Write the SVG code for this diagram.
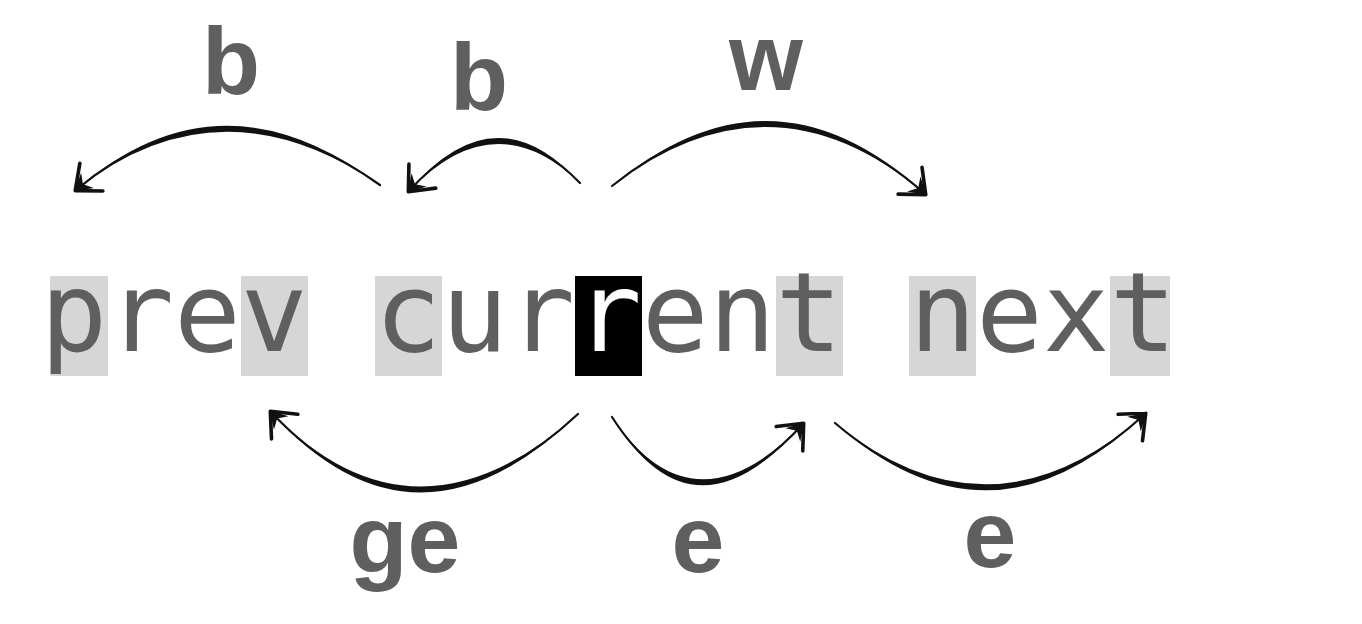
<svg xmlns="http://www.w3.org/2000/svg" width="1362" height="624" viewBox="0 0 1362 624">
<defs>
<style>
.mono{font-family:"DejaVu Sans Mono","Liberation Mono",monospace;font-size:111px;fill:#5f5f5f}
.lbl{font-family:"Liberation Sans",Arial,sans-serif;font-weight:bold;font-size:95px;fill:#5f5f5f;text-anchor:middle}
.hl{fill:#d6d6d6}
.line{fill:none;stroke:#111;stroke-width:2.2;stroke-linecap:round}
.body{fill:#111;stroke:none}
</style>
<marker id="ah" markerUnits="userSpaceOnUse" markerWidth="60" markerHeight="60" refX="0" refY="0" orient="auto" overflow="visible">
<path d="M1,0 L-20,-18 M1,0 L-20,18" fill="none" stroke="#111" stroke-width="3.6" stroke-linecap="round"/>
<path d="M2,0 L-15,-10 L-9,0 L-15,10 Z" fill="#111"/>
</marker>
</defs>
<rect width="1362" height="624" fill="#fff"/>
<g id="text-line">
<rect class="hl" x="50" y="276" width="58" height="100"/>
<rect class="hl" x="241" y="276" width="67" height="100"/>
<rect class="hl" x="375" y="276" width="67" height="100"/>
<rect x="575" y="276" width="67" height="100" fill="#000"/>
<rect class="hl" x="776" y="276" width="67" height="100"/>
<rect class="hl" x="909" y="276" width="67" height="100"/>
<rect class="hl" x="1110" y="276" width="60" height="100"/>
<text class="mono" x="40.4" y="351">prev cur<tspan fill="#fff">r</tspan>ent next</text>
</g>
<g id="labels">
<text class="lbl" x="231" y="94">b</text>
<text class="lbl" x="479" y="110">b</text>
<text class="lbl" x="766" y="90">w</text>
<text class="lbl" x="405" y="572">ge</text>
<text class="lbl" x="698" y="572">e</text>
<text class="lbl" x="990" y="567">e</text>
</g>
<g id="connectors">
<path class="body" d="M380,185 Q220,64 76,190 Q220,76 380,185 Z"/>
<path class="line" d="M380,185 Q220,70 76,190" marker-end="url(#ah)"/>
<path class="body" d="M580,183 Q495,89 409,191 Q495,101 580,183 Z"/>
<path class="line" d="M580,183 Q495,95 409,191" marker-end="url(#ah)"/>
<path class="body" d="M612,186 Q772,52 925,194 Q772,64 612,186 Z"/>
<path class="line" d="M612,186 Q772,58 925,194" marker-end="url(#ah)"/>
<path class="body" d="M578,414 Q415,572 271,412 Q415,560 578,414 Z"/>
<path class="line" d="M578,414 Q415,566 271,412" marker-end="url(#ah)"/>
<path class="body" d="M612,417 Q693,550 803,424 Q693,538 612,417 Z"/>
<path class="line" d="M612,417 Q693,544 803,424" marker-end="url(#ah)"/>
<path class="body" d="M835,423 Q991,562 1145,414 Q991,550 835,423 Z"/>
<path class="line" d="M835,423 Q991,556 1145,414" marker-end="url(#ah)"/>
</g>
</svg>
